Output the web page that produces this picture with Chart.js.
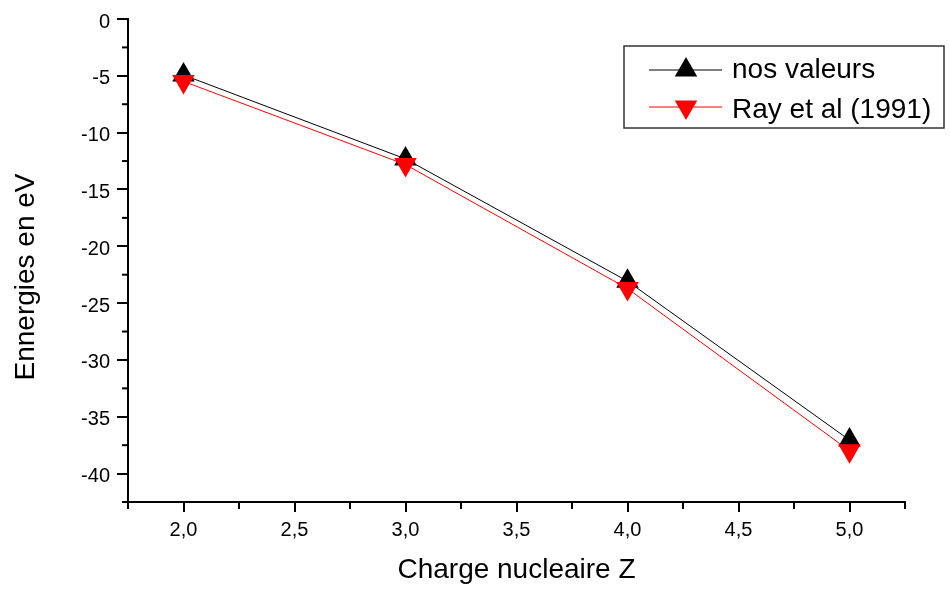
<!DOCTYPE html>
<html>
<head>
<meta charset="utf-8">
<script src="https://cdn.jsdelivr.net/npm/chart.js@4"></script>
<style>
    body { margin: 0; background: #fff; }
    #wrap { width: 950px; height: 590px; }
</style>
</head>
<body>
<div id="wrap"><canvas id="energyChart" width="950" height="590"></canvas></div>
<script>
// donnees
var charges = [2, 3, 4, 5];
var nosValeurs = [-4.93, -12.31, -23.07, -37.05];
var rayValeurs = [-5.49, -12.81, -23.72, -37.99];
var xTicks = [2.0, 2.5, 3.0, 3.5, 4.0, 4.5, 5.0];
var yTicks = [0, -5, -10, -15, -20, -25, -30, -35, -40];

var fontName = "'Liberation Sans', Arial, sans-serif";

function toPoints(values) {
    return charges.map(function (c, i) {
        return { x: c, y: values[i] };
    });
}

function triangle(ctx, x, y, r, down) {
    var s = down ? -1 : 1;
    ctx.beginPath();
    ctx.moveTo(x, y - s * r);
    ctx.lineTo(x + Math.sin(Math.PI / 3) * r, y + s * r / 2);
    ctx.lineTo(x - Math.sin(Math.PI / 3) * r, y + s * r / 2);
    ctx.closePath();
    ctx.fill();
}

// petites graduations, titres d'axes et legende facon Origin
var originStyle = {
    id: "originStyle",
    afterDraw: function (chart) {
        var ctx = chart.ctx;
        var xs = chart.scales.x;
        var ys = chart.scales.y;
        ctx.save();
        ctx.strokeStyle = "#000";
        ctx.lineWidth = 2;

        // graduations mineures
        var xMinor = [xs.min];
        xTicks.forEach(function (v) { xMinor.push(v + 0.25); });
        xMinor.forEach(function (v) {
            var px = xs.getPixelForValue(v);
            ctx.beginPath();
            ctx.moveTo(px, xs.top);
            ctx.lineTo(px, xs.top + 7);
            ctx.stroke();
        });
        var yMinor = [ys.min];
        yTicks.forEach(function (v) { if (v < 0) yMinor.push(v + 2.5); });
        yMinor.forEach(function (v) {
            var py = ys.getPixelForValue(v);
            ctx.beginPath();
            ctx.moveTo(ys.right, py);
            ctx.lineTo(ys.right - 6, py);
            ctx.stroke();
        });

        // titres
        ctx.fillStyle = "#000";
        ctx.font = "28px " + fontName;
        ctx.textAlign = "center";
        ctx.textBaseline = "alphabetic";
        ctx.fillText("Charge nucleaire Z", (chart.chartArea.left + chart.chartArea.right) / 2, 578);
        ctx.save();
        ctx.translate(34, 277);
        ctx.rotate(-Math.PI / 2);
        ctx.fillText("Ennergies en eV", 0, 0);
        ctx.restore();

        // legende
        ctx.lineWidth = 1.5;
        ctx.strokeStyle = "#333";
        ctx.strokeRect(624, 46, 320, 82);

        var rows = [
            { label: "nos valeurs", color: "#000", down: false, y: 70, base: 78 },
            { label: "Ray et al (1991)", color: "#ff0000", down: true, y: 107, base: 118 }
        ];
        rows.forEach(function (row) {
            ctx.strokeStyle = row.color;
            ctx.lineWidth = 1;
            ctx.beginPath();
            ctx.moveTo(649, row.y);
            ctx.lineTo(722, row.y);
            ctx.stroke();
            ctx.fillStyle = row.color;
            triangle(ctx, 686, row.y, 13, row.down);
            ctx.fillStyle = "#000";
            ctx.textAlign = "left";
            ctx.fillText(row.label, 732, row.base);
        });
        ctx.restore();
    }
};

var ctx = document.getElementById("energyChart").getContext("2d");

var energyChart = new Chart(ctx, {
    type: "line",
    data: {
        datasets: [{
            label: "nos valeurs",
            data: toPoints(nosValeurs),
            borderColor: "#000",
            backgroundColor: "#000",
            borderWidth: 1,
            pointStyle: "triangle",
            pointRadius: 13,
            pointBorderWidth: 0,
            pointBackgroundColor: "#000",
            tension: 0,
            order: 1
        }, {
            label: "Ray et al (1991)",
            data: toPoints(rayValeurs),
            borderColor: "#ff0000",
            backgroundColor: "#ff0000",
            borderWidth: 1,
            pointStyle: "triangle",
            pointRotation: 180,
            pointRadius: 13,
            pointBorderWidth: 0,
            pointBackgroundColor: "#ff0000",
            tension: 0,
            order: 0
        }]
    },
    options: {
        responsive: false,
        animation: false,
        layout: {
            padding: { top: 16, right: 45, left: 0, bottom: 0 }
        },
        plugins: {
            legend: { display: false },
            tooltip: { enabled: false }
        },
        scales: {
            x: {
                type: "linear",
                min: 1.75,
                max: 5.25,
                afterBuildTicks: function (scale) {
                    scale.ticks = xTicks.map(function (v) { return { value: v }; });
                },
                afterFit: function (scale) {
                    scale.height = 88;
                },
                ticks: {
                    color: "#000",
                    font: { size: 20, family: fontName },
                    padding: 6,
                    maxRotation: 0,
                    callback: function (value) {
                        return value.toFixed(1).replace(".", ",");
                    }
                },
                grid: {
                    display: true,
                    drawOnChartArea: false,
                    drawTicks: true,
                    tickLength: 10,
                    lineWidth: 2,
                    color: "#000"
                },
                border: { display: true, color: "#000", width: 2 }
            },
            y: {
                min: -42.5,
                max: 0,
                afterBuildTicks: function (scale) {
                    scale.ticks = yTicks.map(function (v) { return { value: v }; });
                },
                afterFit: function (scale) {
                    scale.width = 128;
                },
                ticks: {
                    color: "#000",
                    font: { size: 20, family: fontName },
                    padding: 7,
                    labelOffset: 3,
                    callback: function (value) {
                        return String(value);
                    }
                },
                grid: {
                    display: true,
                    drawOnChartArea: false,
                    drawTicks: true,
                    tickLength: 11,
                    lineWidth: 2,
                    color: "#000"
                },
                border: { display: true, color: "#000", width: 2 }
            }
        }
    },
    plugins: [originStyle]
});
</script>
</body>
</html>
